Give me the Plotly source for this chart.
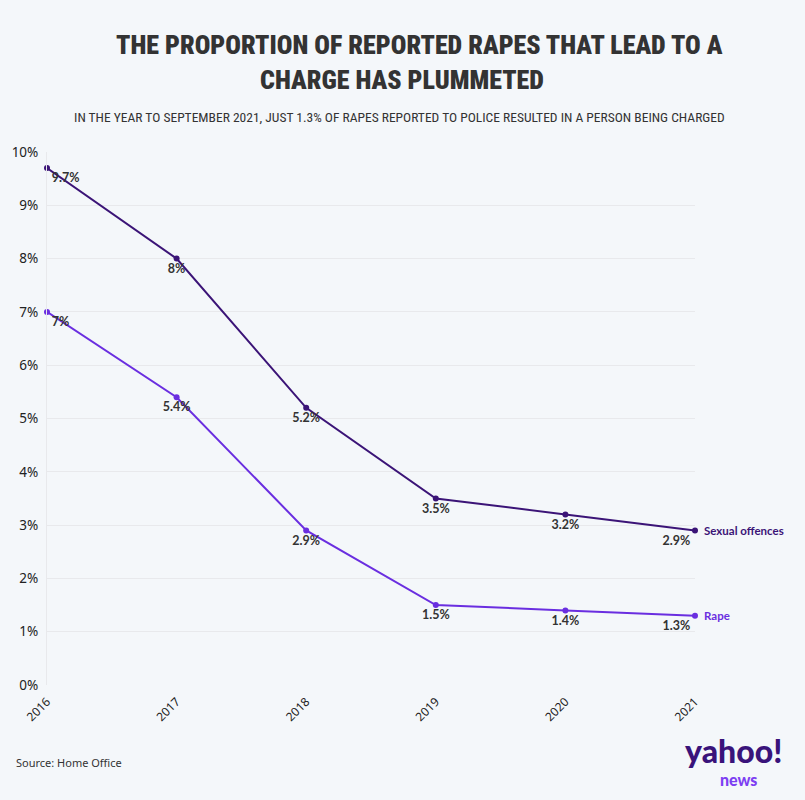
import plotly.graph_objects as go

years = [2016, 2017, 2018, 2019, 2020, 2021]
sexual_offences = [9.7, 8.0, 5.2, 3.5, 3.2, 2.9]
rape = [7.0, 5.4, 2.9, 1.5, 1.4, 1.3]
y_ticks = [0, 1, 2, 3, 4, 5, 6, 7, 8, 9, 10]
y_tick_labels = [f"{v}%" for v in y_ticks]

DARK = "#3b1477"
LIGHT = "#6a2ee0"
BG = "#f4f7fa"

def labels(vals):
    return [f"{v:g}%" for v in vals]

positions = ["bottom right", "bottom center", "bottom center", "bottom center", "bottom center", "bottom left"]

fig = go.Figure()
for name, vals, col in [("Sexual offences", sexual_offences, DARK), ("Rape", rape, LIGHT)]:
    fig.add_trace(go.Scatter(
        x=years, y=vals, mode="lines+markers+text", name=name,
        line=dict(color=col, width=2), marker=dict(size=6, color=col),
        text=labels(vals), textposition=positions,
        textfont=dict(family="Lato", size=12.5, color="#333333", weight="bold"),
        cliponaxis=False, showlegend=False,
    ))
    fig.add_annotation(x=years[-1], y=vals[-1], xref="x", yref="y", text=f"<b>{name}</b>",
                       showarrow=False, xanchor="left", xshift=7,
                       font=dict(family="Lato", size=11.5, color=col))

fig.update_layout(
    width=805, height=800,
    paper_bgcolor=BG, plot_bgcolor=BG,
    margin=dict(l=47, r=110, t=152, b=115),
    xaxis=dict(range=[2016, 2021], tickvals=years, ticktext=[str(y) for y in years],
               tickangle=-45, tickfont=dict(family="Noto Sans", size=12, color="#222"),
               showgrid=False, zeroline=False, showline=False, ticks="outside", ticklen=4,
               tickcolor="rgba(0,0,0,0)", automargin=False),
    yaxis=dict(range=[0, 10], tickvals=y_ticks, ticktext=y_tick_labels,
               tickfont=dict(family="Noto Sans", size=13.5, color="#222"),
               showgrid=True, gridcolor="#e8e9ec", gridwidth=1, zeroline=False,
               showline=True, linecolor="#e8e9ec", ticks="", ticklabelstandoff=5, automargin=False),
)

def add_text(text, x, y, size, color, family, weight="normal", xanchor="center"):
    fig.add_annotation(x=x, y=y, xref="paper", yref="paper", text=text, showarrow=False,
                       xanchor=xanchor, yanchor="middle",
                       font=dict(family=family, size=size, color=color, weight=weight))

def px(xp, yp):
    return (xp - 47) / (805 - 47 - 110), (800 - 115 - yp) / (800 - 152 - 115)

TF = "Roboto Condensed"
x, y = px(419, 45); add_text("THE PROPORTION OF REPORTED RAPES THAT LEAD TO A", x, y, 26, "#333333", TF, 900)
x, y = px(402, 80); add_text("CHARGE HAS PLUMMETED", x, y, 26, "#333333", TF, 900)
x, y = px(399, 117); add_text("IN THE YEAR TO SEPTEMBER 2021, JUST 1.3% OF RAPES REPORTED TO POLICE RESULTED IN A PERSON BEING CHARGED", x, y, 13.5, "#333333", TF)
x, y = px(14, 762); add_text("Source: Home Office", x, y, 11, "#333333", "Noto Sans", xanchor="left")
x, y = px(733, 750); add_text("yahoo!", x, y, 32, "#39137a", "Lato", 900)
x, y = px(738, 779); add_text("news", x, y, 16, "#7d3ff2", "Lato", 900)

fig.write_html("out.html", config={"displayModeBar": False},
               post_script="document.body.style.margin='0';")
